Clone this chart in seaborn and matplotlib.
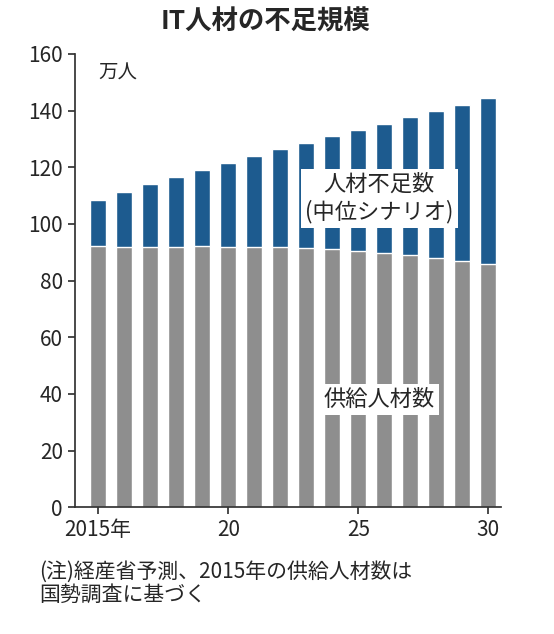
import matplotlib.pyplot as plt
import seaborn as sns
import pandas as pd

sns.set_theme(style="white")
plt.rcParams['font.family'] = ['Noto Sans CJK JP', 'DejaVu Sans']

# データ（万人）
years = list(range(2015, 2031))
total = [108.6, 111.4, 114.0, 116.6, 119.1, 121.6, 124.0, 126.4, 128.6, 130.9, 133.0, 135.3, 137.6, 139.8, 142.0, 144.5]
supply = [92.1, 92.0, 92.0, 92.0, 92.1, 92.0, 92.0, 91.9, 91.4, 91.0, 90.5, 89.8, 88.9, 88.0, 87.0, 86.0]
tick_labels = ["2015年", "20", "25", "30"]

df = pd.DataFrame({"year": years, "total": total, "supply": supply})

fig = plt.figure(figsize=(5.54, 6.34), dpi=100)
ax = fig.add_axes([0.135, 0.2, 0.77, 0.715])

sns.barplot(data=df, x="year", y="total", color="#1d5b8f", width=0.62, ax=ax, saturation=1)
sns.barplot(data=df, x="year", y="supply", color="#8e8e8e", width=0.62, ax=ax, saturation=1)

ax.set_ylim(0, 160)
ax.set_yticks(range(0, 161, 20))
ax.set_xlim(-0.9, 15.5)
ax.set_xticks([0, 5, 10, 15])
ax.set_xticklabels(tick_labels)
ax.set_xlabel("")
ax.set_ylabel("")
ax.tick_params(axis="both", labelsize=15, length=5, direction="out", left=True, bottom=True, color="#333")
for s in ["top", "right"]:
    ax.spines[s].set_visible(False)
for s in ["left", "bottom"]:
    ax.spines[s].set_color("#333")

ax.text(0.02, 157, "万人", fontsize=14, va="top")
box = dict(facecolor="white", edgecolor="none", pad=3)
ax.text(10.8, 109, "人材不足数\n(中位シナリオ)", fontsize=16, ha="center", va="center", bbox=box, linespacing=1.2)
ax.text(10.8, 38, "供給人材数", fontsize=16, ha="center", va="center", bbox=box)

fig.text(0.48, 0.965, "IT人材の不足規模", fontsize=19, fontweight="bold", ha="center", va="center")
fig.text(0.07, 0.08, "(注)経産省予測、2015年の供給人材数は\n国勢調査に基づく", fontsize=15, ha="left", va="center", linespacing=1.1)

fig.savefig("out.png", dpi=100)
